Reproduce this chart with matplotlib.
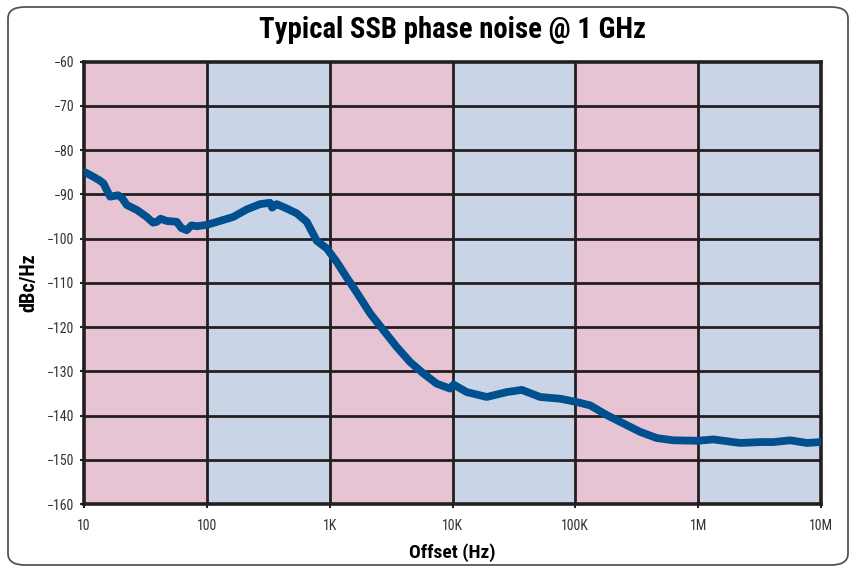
import numpy as np
import matplotlib
matplotlib.use("Agg")
import matplotlib.pyplot as plt
from matplotlib.patches import FancyBboxPatch
from matplotlib.ticker import FixedLocator, NullLocator
import logging
logging.getLogger('matplotlib.font_manager').setLevel(logging.ERROR)

plt.rcParams['font.family'] = ['Roboto Condensed', 'Fira Sans Condensed', 'DejaVu Sans']

title = "Typical SSB phase noise @ 1 GHz"
xlabel = "Offset (Hz)"
ylabel = "dBc/Hz"

freq_hz = [10.2, 11.9, 13.5, 14.4, 16.3, 19.0, 20.5, 22.3, 26.9, 32.4, 36.5, 39.1, 42.0,
           47.1, 56.9, 62.0, 68.5, 75.0, 82.7, 99.7, 128, 164, 211, 271, 327, 340, 371,
           448, 540, 651, 785, 947, 1143, 1378, 1663, 2135, 2738, 3516, 4515, 5798,
           7447, 9550, 10200, 13060, 19010, 27660, 36650, 51650, 75160, 100900, 131900,
           180500, 246600, 337100, 461300, 629600, 993000, 1330000, 2197000, 3199000,
           4105000, 5610000, 7677000, 9840000]
noise_dbc = [-85.0, -86.0, -86.9, -87.5, -90.5, -90.2, -90.9, -92.4, -93.5, -95.1, -96.4,
             -96.2, -95.5, -96.0, -96.2, -97.6, -98.1, -97.0, -97.2, -96.9, -96.0, -95.1,
             -93.4, -92.2, -91.9, -93.0, -92.2, -93.2, -94.3, -96.2, -100.5, -102.2,
             -105.3, -108.8, -112.2, -116.9, -120.7, -124.5, -127.9, -130.5, -132.8,
             -133.9, -133.0, -134.7, -135.8, -134.7, -134.2, -135.8, -136.2, -136.9,
             -137.7, -139.9, -141.8, -143.7, -145.1, -145.6, -145.7, -145.4, -146.2,
             -146.0, -146.0, -145.6, -146.2, -146.0]

decade_edges = [10, 100, 1e3, 1e4, 1e5, 1e6, 1e7]
band_colors = ["#e6c4d4", "#c9d5e7"]
x_ticklabels = ["10", "100", "1K", "10K", "100K", "1M", "10M"]
y_ticks = list(range(-160, -59, 10))

fig = plt.figure(figsize=(8.52, 5.73), dpi=100)
ax = fig.add_axes([84/852, 1-504/573, (821-84)/852, (504-61.7)/573])

for i in range(len(decade_edges) - 1):
    ax.axvspan(decade_edges[i], decade_edges[i+1], color=band_colors[i % 2], lw=0, zorder=0)

ax.set_xscale('log')
ax.set_xlim(10, 1e7)
ax.set_ylim(-160, -60)

for d in decade_edges[1:-1]:
    ax.axvline(d, color="#231f20", lw=2.0, zorder=1)
for yv in y_ticks[1:-1]:
    ax.axhline(yv, color="#231f20", lw=2.0, zorder=1)

ax.plot(freq_hz, noise_dbc, color="#00508f", lw=5.6, solid_capstyle='round',
        solid_joinstyle='round', zorder=3)

for s in ax.spines.values():
    s.set_linewidth(2.6)
    s.set_color("#231f20")

ax.xaxis.set_major_locator(FixedLocator(decade_edges))
ax.xaxis.set_minor_locator(NullLocator())
ax.set_xticklabels(x_ticklabels)
ax.set_yticks(y_ticks)
ax.set_yticklabels([f"\u2212{abs(v)}" for v in y_ticks])
ax.tick_params(axis='both', length=3, width=1.5, color="#231f20", labelsize=10,
               labelcolor="#333333", pad=4)
ax.tick_params(axis='x', pad=8)

ax.set_xlabel(xlabel, fontsize=14, fontweight='bold', labelpad=7)
ax.set_ylabel(ylabel, fontsize=14.5, fontweight='bold', labelpad=6)
fig.text(452.5/852, 1-30/573, title, ha='center', va='center', fontsize=20.7,
         fontweight='bold')

border = FancyBboxPatch((8/852, 8/573), (848-8)/852, (566-8)/573,
                        boxstyle="round,pad=0,rounding_size=0.02",
                        transform=fig.transFigure, fill=False, ec="#555555", lw=1.3)
fig.patches.append(border)

fig.savefig("out.png", dpi=100)
